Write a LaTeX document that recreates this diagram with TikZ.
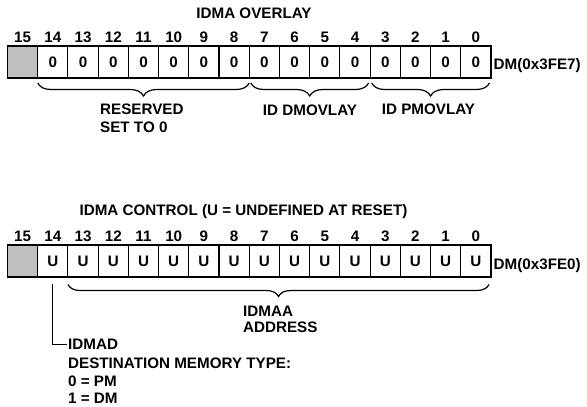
\documentclass[tikz,border=0pt]{standalone}
\usepackage{fontspec}
\setmainfont{Liberation Sans}
\usetikzlibrary{decorations.pathreplacing}
\begin{document}
\begin{tikzpicture}[x=1pt,y=-1pt,
  font=\fontsize{15.2}{18}\selectfont\bfseries,
  cell/.style={draw, line width=1.1pt, minimum width=30.22pt, minimum height=32pt,
    inner sep=0pt, outer sep=0pt, anchor=west},
  txt/.style={inner sep=0pt, anchor=base},
  ltxt/.style={inner sep=0pt, anchor=base west},
  bitnum/.style={inner sep=0pt, anchor=base},
  frame/.style={line width=1.8pt},
  bracebig/.style={decorate, decoration={brace, mirror, amplitude=13pt}, line width=1.2pt},
  leader/.style={line width=1pt}]
\useasboundingbox (0,0) rectangle (587,407);

% ---- IDMA OVERLAY ----
\node[txt] (t1) at (254,18.2) {IDMA OVERLAY};
\node[cell, fill=gray!50] (a15) at (7.5,62) {};
\foreach \i in {14,...,0} \node[cell] (a\i) at ({7.5+30.22*(15-\i)},62) {0};
\foreach \i in {15,...,0} \node[bitnum] (na\i) at ([yshift=4pt]a\i.north) {\i};
\draw[frame] (a15.north west) rectangle (a0.south east);
\node[ltxt] (dma) at (493.5,69.5) {DM(0x3FE7)};

\draw[bracebig] ([yshift=-5pt]a14.south west) -- ([yshift=-5pt]a8.south east);
\draw[bracebig] ([xshift=1.5pt,yshift=-5pt]a7.south west) -- ([xshift=-1.5pt,yshift=-5pt]a4.south east);
\draw[bracebig] ([xshift=1.5pt,yshift=-5pt]a3.south west) -- ([xshift=-1.5pt,yshift=-5pt]a0.south east);

\node[ltxt] (res1) at (100,114.5) {RESERVED};
\node[ltxt] (res2) at (100,132.2) {SET TO 0};
\node[txt] (dmov) at (310,115.5) {ID DMOVLAY};
\node[txt] (pmov) at (428.5,114.5) {ID PMOVLAY};

% ---- IDMA CONTROL ----
\node[txt] (t2) at (243.5,215.5) {IDMA CONTROL (U = UNDEFINED AT RESET)};
\node[cell, fill=gray!50] (b15) at (7.5,261) {};
\foreach \i in {14,...,0} \node[cell] (b\i) at ({7.5+30.22*(15-\i)},261) {U};
\foreach \i in {15,...,0} \node[bitnum] (nb\i) at ([yshift=4pt]b\i.north) {\i};
\draw[frame] (b15.north west) rectangle (b0.south east);
\node[ltxt] (dmb) at (493.5,269.7) {DM(0x3FE0)};

\draw[bracebig, decoration={brace, mirror, amplitude=12pt}] ([yshift=-7.5pt]b13.south west) -- ([xshift=-2pt,yshift=-7.5pt]b0.south east);
\node[ltxt] (aa1) at (243,316.2) {IDMAA};
\node[ltxt] (aa2) at (243,332.2) {ADDRESS};

\node[ltxt] (ad1) at (68,349.5) {IDMAD};
\node[ltxt] (ad2) at (68,368.2) {DESTINATION MEMORY TYPE:};
\node[ltxt] (ad3) at (68,386.2) {0 = PM};
\node[ltxt] (ad4) at (68,403.5) {1 = DM};
\draw[leader] ([yshift=-7pt]b14.south) |- ([xshift=-1.5pt]ad1.west);
\end{tikzpicture}
\end{document}
